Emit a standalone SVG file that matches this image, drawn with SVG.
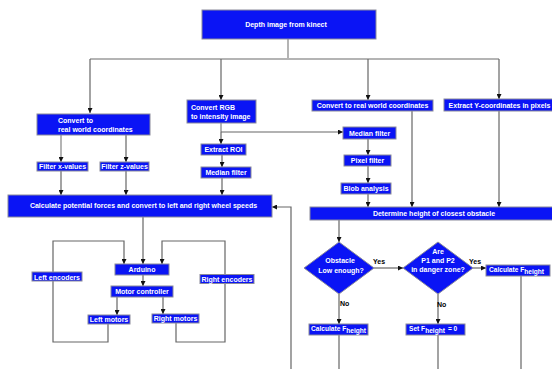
<svg xmlns="http://www.w3.org/2000/svg" width="552" height="369" viewBox="0 0 552 369">
<style>
.b{fill:#0a14f5;stroke:#8a8a9a;stroke-width:1}
.t{font-family:"Liberation Sans",Arial,sans-serif;font-weight:bold;font-size:7px;fill:#fff}
.s{font-size:6.6px}
.c{text-anchor:middle}
.k{font-family:"Liberation Sans",Arial,sans-serif;font-weight:bold;font-size:7px;fill:#000}
.ln{fill:none;stroke:#666;stroke-width:1.2}
.lt{fill:none;stroke:#b4b4b4;stroke-width:2}
</style>
<defs>
<marker id="a" viewBox="0 0 8 8" refX="8" refY="4" markerWidth="5" markerHeight="5" markerUnits="userSpaceOnUse" orient="auto">
<path d="M0,0 L8,4 L0,8 z" fill="#111"/>
</marker>
</defs>
<rect width="552" height="369" fill="#fff"/>
<g id="connectors">
<path class="lt" d="M288,39 V59"/>
<path class="lt" d="M90,59 H499"/>
<path class="ln" d="M90,59 V113" marker-end="url(#a)"/>
<path class="ln" d="M221,59 V100" marker-end="url(#a)"/>
<path class="ln" d="M368,59 V100" marker-end="url(#a)"/>
<path class="ln" d="M499,59 V99" marker-end="url(#a)"/>
<path class="lt" d="M61,135 V162" marker-end="url(#a)"/>
<path class="ln" d="M126,135 V162" marker-end="url(#a)"/>
<path class="ln" d="M61,171 V195" marker-end="url(#a)"/>
<path class="ln" d="M126,171 V195" marker-end="url(#a)"/>
<path class="lt" d="M221,123 V132"/>
<path class="ln" d="M221,132 V144" marker-end="url(#a)"/>
<path class="ln" d="M221,132 H343" marker-end="url(#a)"/>
<path class="ln" d="M222,155 V167" marker-end="url(#a)"/>
<path class="ln" d="M222,178 V195" marker-end="url(#a)"/>
<path class="ln" d="M368,139 V155" marker-end="url(#a)"/>
<path class="ln" d="M368,166 V183" marker-end="url(#a)"/>
<path class="ln" d="M368,194 V207" marker-end="url(#a)"/>
<path class="ln" d="M412,111 V207" marker-end="url(#a)"/>
<path class="ln" d="M499,111 V207" marker-end="url(#a)"/>
<path class="ln" d="M291,369 V207 H272" marker-end="url(#a)"/>
<path class="ln" d="M339,220 V242" marker-end="url(#a)"/>
<path class="ln" d="M374,268 H403" marker-end="url(#a)"/>
<path class="ln" d="M473,268 H486" marker-end="url(#a)"/>
<path class="ln" d="M339,294 V324" marker-end="url(#a)"/>
<path class="ln" d="M438,294 V324" marker-end="url(#a)"/>
<path class="ln" d="M339,335 V369"/>
<path class="ln" d="M438,335 V369"/>
<path class="ln" d="M521,276 V369"/>
<path class="ln" d="M143,217 V264" marker-end="url(#a)"/>
<path class="ln" d="M108,323 V342 H53 V241 H124 V264" marker-end="url(#a)"/>
<path class="ln" d="M176,322 V342 H225 V241 H162 V264" marker-end="url(#a)"/>
<path class="ln" d="M143,275 V286" marker-end="url(#a)"/>
<path class="ln" d="M117,297 V315" marker-end="url(#a)"/>
<path class="ln" d="M163,297 V314" marker-end="url(#a)"/>
<text class="k" x="373" y="264">Yes</text>
<text class="k" x="469" y="264">Yes</text>
<text class="k" x="340" y="306">No</text>
<text class="k" x="437" y="307">No</text>
</g>
<g id="depth"><rect class="b" x="202" y="10" width="174" height="29"/><text class="t c" x="286" y="27">Depth image from kinect</text></g>
<g id="convL"><rect class="b" x="37" y="114" width="113" height="21"/><text class="t" x="58" y="122.5">Convert to</text><text class="t" x="58" y="131.5">real world coordinates</text></g>
<g id="convRGB"><rect class="b" x="187" y="100" width="69" height="23"/><text class="t" x="191" y="109.5">Convert RGB</text><text class="t" x="191" y="118.5">to intensity image</text></g>
<g id="convR"><rect class="b" x="312" y="100" width="121" height="11"/><text class="t c" x="372.5" y="108">Convert to real world coordinates</text></g>
<g id="extY"><rect class="b" x="444" y="99" width="110" height="12"/><text class="t c" x="499.5" y="107.5">Extract Y-coordinates in pixels</text></g>
<g id="filtX"><rect class="b" x="37" y="162" width="51" height="9"/><text class="t c" x="62.5" y="169">Filter x-values</text></g>
<g id="filtZ"><rect class="b" x="100" y="162" width="49" height="9"/><text class="t c" x="124.5" y="169">Filter z-values</text></g>
<g id="roi"><rect class="b" x="201" y="144" width="45" height="11"/><text class="t c" x="223.5" y="152">Extract ROI</text></g>
<g id="medL"><rect class="b" x="201" y="167" width="50" height="11"/><text class="t c" x="226" y="175">Median filter</text></g>
<g id="medR"><rect class="b" x="343" y="127" width="53" height="12"/><text class="t c" x="369.5" y="135.5">Median filter</text></g>
<g id="pixel"><rect class="b" x="344" y="155" width="47" height="11"/><text class="t c" x="367.5" y="163">Pixel filter</text></g>
<g id="blob"><rect class="b" x="341" y="183" width="50" height="11"/><text class="t c" x="366" y="191">Blob analysis</text></g>
<g id="calc"><rect class="b" x="8" y="195" width="264" height="22"/><text class="t c" x="143.5" y="207.5">Calculate potential forces and convert to left and right wheel speeds</text></g>
<g id="determine"><rect class="b" x="310" y="207" width="244" height="13"/><text class="t c" x="434" y="216">Determine height of closest obstacle</text></g>
<g id="arduino"><rect class="b" x="115" y="264" width="54" height="11"/><text class="t c" x="142" y="272">Arduino</text></g>
<g id="motorc"><rect class="b" x="111" y="286" width="62" height="11"/><text class="t c" x="142" y="294">Motor controller</text></g>
<g id="leftm"><rect class="b" x="88" y="315" width="42" height="9"/><text class="t c" x="109" y="322">Left motors</text></g>
<g id="rightm"><rect class="b" x="152" y="314" width="47" height="9"/><text class="t c" x="175.5" y="321">Right motors</text></g>
<g id="lenc"><rect class="b" x="32" y="272" width="50" height="9"/><text class="t c" x="57" y="279.5">Left encoders</text></g>
<g id="renc"><rect class="b" x="200" y="274.5" width="54" height="9"/><text class="t c" x="227" y="282">Right encoders</text></g>
<g id="dec1"><path class="b" d="M339,242 L374,268 L339,294 L304,268 Z"/><text class="t c" x="340" y="263">Obstacle</text><text class="t c" x="341" y="272.5">Low enough?</text></g>
<g id="dec2"><path class="b" d="M438,242 L473,268 L438,294 L403,268 Z"/><text class="t c" x="438" y="254">Are</text><text class="t c" x="438" y="263">P1 and P2</text><text class="t c" x="438" y="272">in danger zone?</text></g>
<g id="calcFR"><rect class="b" x="486" y="265" width="64" height="11"/><text class="t s" x="489" y="272">Calculate F<tspan dy="2">height</tspan></text></g>
<g id="calcFL"><rect class="b" x="309" y="324" width="59" height="11"/><text class="t s" x="311" y="331">Calculate F<tspan dy="2">height</tspan></text></g>
<g id="setF"><rect class="b" x="406" y="324" width="59" height="11"/><text class="t s" x="409" y="331">Set F<tspan dy="2">height</tspan><tspan dy="-2" dx="3">= 0</tspan></text></g>
</svg>
